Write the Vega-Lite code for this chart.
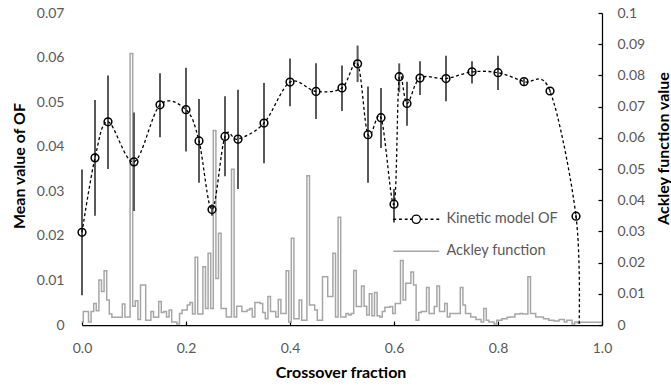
{
  "$schema": "https://vega.github.io/schema/vega-lite/v6.json",
  "width": 520,
  "height": 312,
  "autosize": {"type": "none"},
  "padding": {"left": 82, "top": 13, "right": 69, "bottom": 62},
  "background": "white",
  "config": {"view": {"stroke": null}, "font": "Lato"},
  "datasets": {
    "of": [
      {"x": 0, "of": 0.0208, "lo": 0.0067, "hi": 0.0349},
      {"x": 0.025, "of": 0.0375, "lo": 0.0245, "hi": 0.0505},
      {"x": 0.05, "of": 0.0456, "lo": 0.035, "hi": 0.056},
      {"x": 0.1, "of": 0.0366, "lo": 0.0256, "hi": 0.0477},
      {"x": 0.15, "of": 0.0494, "lo": 0.0421, "hi": 0.0565},
      {"x": 0.2, "of": 0.0483, "lo": 0.0389, "hi": 0.0577},
      {"x": 0.225, "of": 0.0413, "lo": 0.0319, "hi": 0.0507},
      {"x": 0.25, "of": 0.0259, "lo": 0.0245, "hi": 0.0271},
      {"x": 0.275, "of": 0.0423, "lo": 0.0334, "hi": 0.0513},
      {"x": 0.3, "of": 0.0417, "lo": 0.0305, "hi": 0.0528},
      {"x": 0.35, "of": 0.0453, "lo": 0.0363, "hi": 0.0543},
      {"x": 0.4, "of": 0.0545, "lo": 0.0491, "hi": 0.0598},
      {"x": 0.45, "of": 0.0524, "lo": 0.0462, "hi": 0.0587},
      {"x": 0.5, "of": 0.0532, "lo": 0.048, "hi": 0.0582},
      {"x": 0.53, "of": 0.0586, "lo": 0.0545, "hi": 0.0627},
      {"x": 0.55, "of": 0.0427, "lo": 0.0319, "hi": 0.0535},
      {"x": 0.575, "of": 0.0465, "lo": 0.0397, "hi": 0.0532},
      {"x": 0.6, "of": 0.0271, "lo": 0.023, "hi": 0.0305},
      {"x": 0.61, "of": 0.0557, "lo": 0.0522, "hi": 0.0587},
      {"x": 0.625, "of": 0.0497, "lo": 0.0447, "hi": 0.0546},
      {"x": 0.65, "of": 0.0554, "lo": 0.0516, "hi": 0.0592},
      {"x": 0.7, "of": 0.0553, "lo": 0.0502, "hi": 0.0604},
      {"x": 0.75, "of": 0.0568, "lo": 0.0542, "hi": 0.0592},
      {"x": 0.8, "of": 0.0566, "lo": 0.0527, "hi": 0.0604},
      {"x": 0.85, "of": 0.0546, "lo": 0.0538, "hi": 0.0553},
      {"x": 0.9, "of": 0.0525, "lo": 0.0522, "hi": 0.0528},
      {"x": 0.95, "of": 0.0244, "lo": 0.024, "hi": 0.0248},
      {"x": 0.956, "of": 0}
    ],
    "ack": [
      {"x": 0, "ack": 0.0010}, {"x": 0.005, "ack": 0.0043}, {"x": 0.01, "ack": 0.0043}, {"x": 0.015, "ack": 0.0010},
      {"x": 0.02, "ack": 0.0043}, {"x": 0.025, "ack": 0.0069}, {"x": 0.03, "ack": 0.0046}, {"x": 0.035, "ack": 0.0144},
      {"x": 0.04, "ack": 0.0107}, {"x": 0.045, "ack": 0.0174}, {"x": 0.05, "ack": 0.0080}, {"x": 0.055, "ack": 0.0035},
      {"x": 0.06, "ack": 0.0025}, {"x": 0.065, "ack": 0.0025}, {"x": 0.07, "ack": 0.0025}, {"x": 0.075, "ack": 0.0025},
      {"x": 0.08, "ack": 0.0067}, {"x": 0.085, "ack": 0.0026}, {"x": 0.09, "ack": 0.0026}, {"x": 0.095, "ack": 0.0870},
      {"x": 0.1, "ack": 0.0060}, {"x": 0.105, "ack": 0.0078}, {"x": 0.11, "ack": 0.0018}, {"x": 0.115, "ack": 0.0128},
      {"x": 0.12, "ack": 0.0128}, {"x": 0.125, "ack": 0.0015}, {"x": 0.13, "ack": 0.0015}, {"x": 0.135, "ack": 0.0043},
      {"x": 0.14, "ack": 0.0025}, {"x": 0.145, "ack": 0.0025}, {"x": 0.15, "ack": 0.0075}, {"x": 0.155, "ack": 0.0040},
      {"x": 0.16, "ack": 0.0043}, {"x": 0.165, "ack": 0.0026}, {"x": 0.17, "ack": 0.0048}, {"x": 0.175, "ack": 0.0010},
      {"x": 0.18, "ack": 0.0010}, {"x": 0.185, "ack": 0.0003}, {"x": 0.19, "ack": 0.0037}, {"x": 0.195, "ack": 0.0048},
      {"x": 0.2, "ack": 0.0048}, {"x": 0.205, "ack": 0.0064}, {"x": 0.21, "ack": 0.0072}, {"x": 0.215, "ack": 0.0035},
      {"x": 0.22, "ack": 0.0217}, {"x": 0.225, "ack": 0.0035}, {"x": 0.23, "ack": 0.0035}, {"x": 0.235, "ack": 0.0187},
      {"x": 0.24, "ack": 0.0053}, {"x": 0.245, "ack": 0.0230}, {"x": 0.25, "ack": 0.0053}, {"x": 0.255, "ack": 0.0623},
      {"x": 0.26, "ack": 0.0149}, {"x": 0.265, "ack": 0.0294}, {"x": 0.27, "ack": 0.0053}, {"x": 0.275, "ack": 0.0053},
      {"x": 0.28, "ack": 0.0026}, {"x": 0.285, "ack": 0.0026}, {"x": 0.29, "ack": 0.0499}, {"x": 0.295, "ack": 0.0026},
      {"x": 0.3, "ack": 0.0060}, {"x": 0.305, "ack": 0.0060}, {"x": 0.31, "ack": 0.0043}, {"x": 0.315, "ack": 0.0043},
      {"x": 0.32, "ack": 0.0048}, {"x": 0.325, "ack": 0.0053}, {"x": 0.33, "ack": 0.0026}, {"x": 0.335, "ack": 0.0072},
      {"x": 0.34, "ack": 0.0072}, {"x": 0.345, "ack": 0.0069}, {"x": 0.35, "ack": 0.0040}, {"x": 0.355, "ack": 0.0020},
      {"x": 0.36, "ack": 0.0091}, {"x": 0.365, "ack": 0.0043}, {"x": 0.37, "ack": 0.0043}, {"x": 0.375, "ack": 0.0026},
      {"x": 0.38, "ack": 0.0082}, {"x": 0.385, "ack": 0.0037}, {"x": 0.39, "ack": 0.0037}, {"x": 0.395, "ack": 0.0174},
      {"x": 0.4, "ack": 0.0010}, {"x": 0.405, "ack": 0.0278}, {"x": 0.41, "ack": 0.0020}, {"x": 0.415, "ack": 0.0020},
      {"x": 0.42, "ack": 0.0080}, {"x": 0.425, "ack": 0.0015}, {"x": 0.43, "ack": 0.0015}, {"x": 0.435, "ack": 0.0478},
      {"x": 0.44, "ack": 0.0064}, {"x": 0.445, "ack": 0.0064}, {"x": 0.45, "ack": 0.0048}, {"x": 0.455, "ack": 0.0015},
      {"x": 0.46, "ack": 0.0015}, {"x": 0.465, "ack": 0.0155}, {"x": 0.47, "ack": 0.0155}, {"x": 0.475, "ack": 0.0091},
      {"x": 0.48, "ack": 0.0091}, {"x": 0.485, "ack": 0.0230}, {"x": 0.49, "ack": 0.0026}, {"x": 0.495, "ack": 0.0345},
      {"x": 0.5, "ack": 0.0026}, {"x": 0.505, "ack": 0.0026}, {"x": 0.51, "ack": 0.0037}, {"x": 0.515, "ack": 0.0032},
      {"x": 0.52, "ack": 0.0037}, {"x": 0.525, "ack": 0.0175}, {"x": 0.53, "ack": 0.0059}, {"x": 0.535, "ack": 0.0059},
      {"x": 0.54, "ack": 0.0125}, {"x": 0.545, "ack": 0.0060}, {"x": 0.55, "ack": 0.0032}, {"x": 0.555, "ack": 0.0100},
      {"x": 0.56, "ack": 0.0030}, {"x": 0.565, "ack": 0.0104}, {"x": 0.57, "ack": 0.0030}, {"x": 0.575, "ack": 0.0026},
      {"x": 0.58, "ack": 0.0043}, {"x": 0.585, "ack": 0.0057}, {"x": 0.59, "ack": 0.0057}, {"x": 0.595, "ack": 0.0059},
      {"x": 0.6, "ack": 0.0037}, {"x": 0.605, "ack": 0.0069}, {"x": 0.61, "ack": 0.0069}, {"x": 0.615, "ack": 0.0207},
      {"x": 0.62, "ack": 0.0080}, {"x": 0.625, "ack": 0.0134}, {"x": 0.63, "ack": 0.0134}, {"x": 0.635, "ack": 0.0170},
      {"x": 0.64, "ack": 0.0128}, {"x": 0.645, "ack": 0.0015}, {"x": 0.65, "ack": 0.0040}, {"x": 0.655, "ack": 0.0043},
      {"x": 0.66, "ack": 0.0043}, {"x": 0.665, "ack": 0.0120}, {"x": 0.67, "ack": 0.0037}, {"x": 0.675, "ack": 0.0037},
      {"x": 0.68, "ack": 0.0059}, {"x": 0.685, "ack": 0.0125}, {"x": 0.69, "ack": 0.0043}, {"x": 0.695, "ack": 0.0043},
      {"x": 0.7, "ack": 0.0069}, {"x": 0.705, "ack": 0.0026}, {"x": 0.71, "ack": 0.0037}, {"x": 0.715, "ack": 0.0037},
      {"x": 0.72, "ack": 0.0037}, {"x": 0.725, "ack": 0.0037}, {"x": 0.73, "ack": 0.0120}, {"x": 0.735, "ack": 0.0064},
      {"x": 0.74, "ack": 0.0037}, {"x": 0.745, "ack": 0.0037}, {"x": 0.75, "ack": 0.0026}, {"x": 0.755, "ack": 0.0026},
      {"x": 0.76, "ack": 0.0018}, {"x": 0.765, "ack": 0.0018}, {"x": 0.77, "ack": 0.0010}, {"x": 0.775, "ack": 0.0053},
      {"x": 0.78, "ack": 0.0015}, {"x": 0.785, "ack": 0.0010}, {"x": 0.79, "ack": 0.0010}, {"x": 0.795, "ack": 0.0003},
      {"x": 0.8, "ack": 0.0015}, {"x": 0.805, "ack": 0.0015}, {"x": 0.81, "ack": 0.0020}, {"x": 0.815, "ack": 0.0020},
      {"x": 0.82, "ack": 0.0025}, {"x": 0.825, "ack": 0.0026}, {"x": 0.83, "ack": 0.0026}, {"x": 0.835, "ack": 0.0035},
      {"x": 0.84, "ack": 0.0035}, {"x": 0.845, "ack": 0.0037}, {"x": 0.85, "ack": 0.0035}, {"x": 0.855, "ack": 0.0035},
      {"x": 0.86, "ack": 0.0155}, {"x": 0.865, "ack": 0.0037}, {"x": 0.87, "ack": 0.0037}, {"x": 0.875, "ack": 0.0026},
      {"x": 0.88, "ack": 0.0026}, {"x": 0.885, "ack": 0.0026}, {"x": 0.89, "ack": 0.0020}, {"x": 0.895, "ack": 0.0020},
      {"x": 0.9, "ack": 0.0015}, {"x": 0.905, "ack": 0.0015}, {"x": 0.91, "ack": 0.0013}, {"x": 0.915, "ack": 0.0013},
      {"x": 0.92, "ack": 0.0018}, {"x": 0.925, "ack": 0.0018}, {"x": 0.93, "ack": 0.0010}, {"x": 0.935, "ack": 0.0015},
      {"x": 0.94, "ack": 0.0015}, {"x": 0.945, "ack": 0.0003}, {"x": 0.95, "ack": 0.0010}, {"x": 0.955, "ack": 0.0007},
      {"x": 0.96, "ack": 0.0009}, {"x": 0.965, "ack": 0.0009}, {"x": 0.97, "ack": 0.0009}, {"x": 0.975, "ack": 0.0009},
      {"x": 0.98, "ack": 0.0009}, {"x": 0.985, "ack": 0.0009}, {"x": 0.99, "ack": 0.0009}, {"x": 0.995, "ack": 0.0009},
      {"x": 1, "ack": 0.0009}
    ]
  },
  "encoding": {
    "x": {
      "field": "x", "type": "quantitative",
      "scale": {"domain": [0, 1], "nice": false, "zero": false},
      "axis": {
        "values": [0, 0.2, 0.4, 0.6, 0.8, 1], "format": ".1f", "grid": false, "labelFlush": false,
        "domainColor": "#000000", "domainWidth": 1.25,
        "tickColor": "#000000", "tickWidth": 1.25, "tickSize": -4,
        "labelPadding": 20, "labelFontSize": 14, "labelColor": "#595959", "labelFont": "Lato",
        "title": "Crossover fraction", "titleFontSize": 16, "titleFontWeight": "bold", "titleColor": "#000000", "titleFont": "Lato",
        "titleX": 258.5, "titleY": 47, "titleBaseline": "middle", "titleAlign": "center"
      }
    }
  },
  "layer": [
    {
      "data": {"name": "ack"},
      "mark": {"type": "line", "interpolate": "step", "strokeWidth": 1.5},
      "encoding": {
        "y": {
          "field": "ack", "type": "quantitative",
          "scale": {"domain": [0, 0.1], "nice": false},
          "axis": {
            "orient": "right", "values": [0, 0.01, 0.02, 0.03, 0.04, 0.05, 0.06, 0.07, 0.08, 0.09, 0.1],
            "format": "~g", "grid": false, "labelFlush": false,
            "domainColor": "#000000", "domainWidth": 1.25,
            "tickColor": "#000000", "tickWidth": 1.25, "tickSize": -4,
            "labelPadding": 19, "labelFontSize": 14, "labelColor": "#595959", "labelFont": "Lato",
            "title": "Ackley function value", "titleFontSize": 16, "titleFontWeight": "bold", "titleColor": "#000000", "titleFont": "Lato",
            "titleAngle": 270, "titleX": 61, "titleY": 135, "titleBaseline": "middle", "titleAlign": "center"
          }
        },
        "color": {
          "datum": "Ackley function", "type": "nominal",
          "scale": {"domain": ["Kinetic model OF", "Ackley function"], "range": ["#000000", "#a6a6a6"]},
          "legend": {
            "orient": "none", "legendX": 327, "legendY": 199, "title": null, "padding": 0,
            "symbolSize": 132, "labelOffset": 23, "rowPadding": 17,
            "labelFontSize": 14.5, "labelColor": "#595959", "labelFont": "Lato",
            "encode": {
              "symbols": {
                "update": {
                  "shape": {"signal": "datum.value === 'Kinetic model OF' ? 'M-4,0H-3.5M-3,0H-2.5M-2,0H-1.5M-1.1,0H-0.75M0.75,0H1.1M1.5,0H2M2.5,0H3M3.5,0H4M-0.72,0A0.72,0.72,0,1,1,0.72,0A0.72,0.72,0,1,1,-0.72,0Z' : 'M-4,0H4'"},
                  "fill": {"value": "transparent"},
                  "strokeWidth": {"signal": "datum.value === 'Kinetic model OF' ? 1.3 : 1.6"},
                  "strokeDash": {"value": []}
                }
              }
            }
          }
        }
      }
    },
    {
      "data": {"name": "of"},
      "layer": [
        {
          "transform": [{"filter": "isValid(datum.lo)"}],
          "mark": {"type": "rule", "color": "#595959", "strokeWidth": 2},
          "encoding": {
            "y": {
              "field": "lo", "type": "quantitative",
              "scale": {"domain": [0, 0.07], "nice": false},
              "axis": {
                "orient": "left", "values": [0, 0.01, 0.02, 0.03, 0.04, 0.05, 0.06, 0.07],
                "format": "~g", "grid": false, "domain": false, "ticks": false, "labelFlush": false,
                "labelPadding": 18, "labelFontSize": 14, "labelColor": "#595959", "labelFont": "Lato",
                "title": "Mean value of OF", "titleFontSize": 16, "titleFontWeight": "bold", "titleColor": "#000000", "titleFont": "Lato",
                "titleAngle": 270, "titleX": -63, "titleY": 152.5, "titleBaseline": "middle", "titleAlign": "center"
              }
            },
            "y2": {"field": "hi"}
          }
        },
        {
          "mark": {"type": "line", "interpolate": "cardinal", "strokeWidth": 1.3, "strokeDash": [3, 2.5]},
          "encoding": {
            "y": {
              "field": "of", "type": "quantitative",
              "scale": {"domain": [0, 0.07], "nice": false},
              "axis": {
                "orient": "left", "values": [0, 0.01, 0.02, 0.03, 0.04, 0.05, 0.06, 0.07],
                "format": "~g", "grid": false, "domain": false, "ticks": false, "labelFlush": false,
                "labelPadding": 18, "labelFontSize": 14, "labelColor": "#595959", "labelFont": "Lato",
                "title": "Mean value of OF", "titleFontSize": 16, "titleFontWeight": "bold", "titleColor": "#000000", "titleFont": "Lato",
                "titleAngle": 270, "titleX": -63, "titleY": 152.5, "titleBaseline": "middle", "titleAlign": "center"
              }
            },
            "color": {"datum": "Kinetic model OF", "type": "nominal"}
          }
        },
        {
          "transform": [{"filter": "isValid(datum.lo)"}],
          "mark": {"type": "point", "shape": "circle", "filled": false, "stroke": "#000000", "strokeWidth": 1.5, "size": 60, "opacity": 1},
          "encoding": {
            "y": {
              "field": "of", "type": "quantitative",
              "scale": {"domain": [0, 0.07], "nice": false},
              "axis": {
                "orient": "left", "values": [0, 0.01, 0.02, 0.03, 0.04, 0.05, 0.06, 0.07],
                "format": "~g", "grid": false, "domain": false, "ticks": false, "labelFlush": false,
                "labelPadding": 18, "labelFontSize": 14, "labelColor": "#595959", "labelFont": "Lato",
                "title": "Mean value of OF", "titleFontSize": 16, "titleFontWeight": "bold", "titleColor": "#000000", "titleFont": "Lato",
                "titleAngle": 270, "titleX": -63, "titleY": 152.5, "titleBaseline": "middle", "titleAlign": "center"
              }
            }
          }
        }
      ]
    }
  ],
  "resolve": {"scale": {"y": "independent"}}
}
